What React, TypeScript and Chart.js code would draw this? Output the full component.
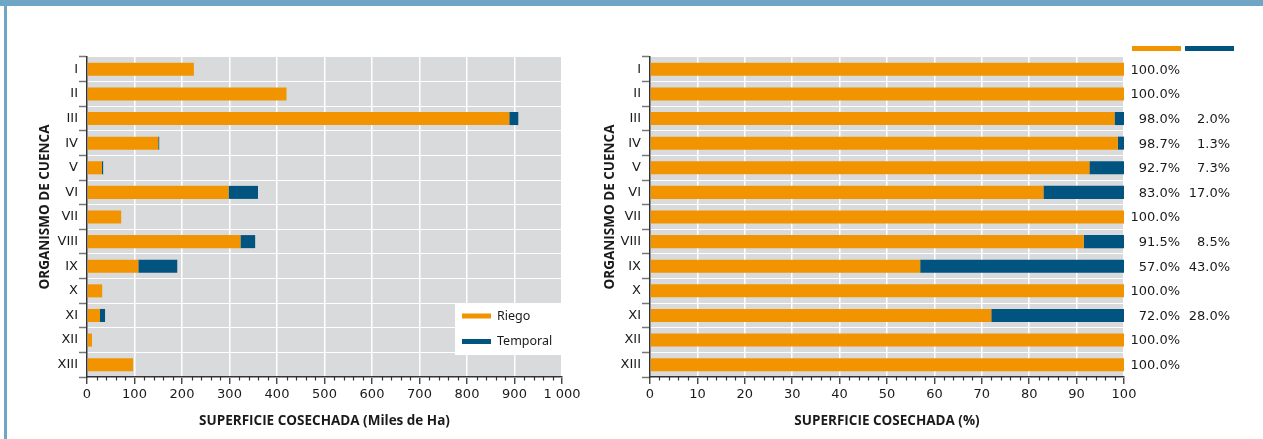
import React, { useEffect, useRef } from 'react';
import { Chart, registerables } from 'chart.js';

Chart.register(...registerables);

// ---------- data ----------
const categories = ['I', 'II', 'III', 'IV', 'V', 'VI', 'VII', 'VIII', 'IX', 'X', 'XI', 'XII', 'XIII'];
const seriesNames = ['Riego', 'Temporal'];
// Superficie cosechada (miles de ha)
const riegoMilesHa = [225, 420, 889, 150, 31.5, 298, 72, 323, 108, 32, 27.4, 10.5, 97];
const temporalMilesHa = [0, 0, 19, 2, 2.5, 62, 0, 31, 82, 0, 10.6, 0, 0];
// Superficie cosechada (%)
const riegoPct = [100, 100, 98.0, 98.7, 92.7, 83.0, 100, 91.5, 57.0, 100, 72.0, 100, 100];
const temporalPct = [0, 0, 2.0, 1.3, 7.3, 17.0, 0, 8.5, 43.0, 0, 28.0, 0, 0];
// axis titles
const yTitle = 'ORGANISMO DE CUENCA';
const xTitleAbs = 'SUPERFICIE COSECHADA (Miles de Ha)';
const xTitlePct = 'SUPERFICIE COSECHADA (%)';

// ---------- styles ----------
const ORANGE = '#F29400';
const BLUE = '#00547F';
const PLOT_BG = '#D9DADB';
const FRAME = '#6FA6C6';
const TEXT = '#1a1a1a';
const TICK_FONT = { family: '"DejaVu Sans", sans-serif', size: 13 };
const TITLE_FONT = 'bold 13.5px "Open Sans", sans-serif';
const LEGEND_FONT = '12.5px "Noto Sans", sans-serif';
const H = 439;

const isMajor = (v: number, major: number) => Math.abs(Math.round(v / major) * major - v) < 1e-6;

function fmtThousands(v: number) {
  const s = String(Math.round(v));
  return s.replace(/\B(?=(\d{3})+(?!\d))/g, ' ');
}

type Spec = {
  width: number;
  area: { left: number; right: number; top: number; bottom: number };
  riego: number[];
  temporal: number[];
  max: number;
  step: number;
  major: number;
  xTitle: string;
  yTitleX: number;
  yTitleY: number;
  xTitleY: number;
  extras: (chart: any) => void;
};

function makeChart(canvas: HTMLCanvasElement, spec: Spec) {
  const { width, area, riego, temporal, max, step, major } = spec;

  const bgPlugin = {
    id: 'plotBg',
    beforeDraw(chart: any) {
      const { ctx, chartArea: a } = chart;
      ctx.save();
      ctx.fillStyle = PLOT_BG;
      ctx.fillRect(a.left, a.top, a.right - a.left, a.bottom - a.top);
      ctx.restore();
    },
  };

  const decoPlugin = {
    id: 'deco',
    afterDraw(chart: any) {
      const { ctx, chartArea: a } = chart;
      const xs = chart.scales.x;
      ctx.save();
      // minor ticks
      ctx.strokeStyle = '#333';
      ctx.lineWidth = 1.2;
      for (let v = 0; v <= max + 1e-9; v += step) {
        if (isMajor(v, major)) continue;
        const px = Math.round(xs.getPixelForValue(v)) + 0.5;
        ctx.beginPath();
        ctx.moveTo(px, a.bottom);
        ctx.lineTo(px, a.bottom + 3.5);
        ctx.stroke();
      }
      // axis titles
      ctx.fillStyle = TEXT;
      ctx.font = TITLE_FONT;
      ctx.textAlign = 'center';
      ctx.textBaseline = 'middle';
      ctx.fillText(spec.xTitle, (a.left + a.right) / 2, spec.xTitleY);
      ctx.save();
      ctx.translate(spec.yTitleX, spec.yTitleY);
      ctx.rotate(-Math.PI / 2);
      ctx.fillText(yTitle, 0, 0);
      ctx.restore();
      ctx.restore();
      spec.extras(chart);
    },
  };

  return new Chart(canvas, {
    type: 'bar',
    data: {
      labels: categories,
      datasets: [
        { label: seriesNames[0], data: riego, backgroundColor: ORANGE, borderWidth: 0, barPercentage: 0.53, categoryPercentage: 1 },
        { label: seriesNames[1], data: temporal, backgroundColor: BLUE, borderWidth: 0, barPercentage: 0.53, categoryPercentage: 1 },
      ],
    },
    options: {
      indexAxis: 'y',
      animation: false,
      responsive: false,
      maintainAspectRatio: false,
      layout: { padding: { left: 0, top: area.top, right: width - area.right, bottom: 0 } },
      plugins: { legend: { display: false }, tooltip: { enabled: false }, title: { display: false } },
      scales: {
        x: {
          type: 'linear',
          stacked: true,
          min: 0,
          max,
          afterFit: (s: any) => {
            s.height = H - area.bottom;
          },
          ticks: {
            stepSize: step,
            autoSkip: false,
            maxRotation: 0,
            minRotation: 0,
            font: TICK_FONT,
            color: TEXT,
            padding: 3,
            callback: (v: any) => (isMajor(Number(v), major) ? fmtThousands(Number(v)) : ''),
          },
          grid: {
            color: (c: any) => (c.tick && isMajor(c.tick.value, major) ? '#ffffff' : 'rgba(0,0,0,0)'),
            lineWidth: 1.5,
            tickLength: 7,
            tickColor: (c: any) => (c.tick && isMajor(c.tick.value, major) ? '#333' : 'rgba(0,0,0,0)'),
            tickWidth: 1.3,
          },
          border: { color: '#333', width: 1.5 },
        },
        y: {
          type: 'category',
          stacked: true,
          afterFit: (s: any) => {
            s.width = area.left;
          },
          ticks: { font: TICK_FONT, color: TEXT, padding: 1, autoSkip: false },
          grid: { offset: true, color: '#ffffff', lineWidth: 1, tickLength: 8, tickColor: '#777', tickWidth: 1.5 },
          border: { color: '#333', width: 1.5 },
        },
      },
    } as any,
    plugins: [bgPlugin, decoPlugin],
  });
}

function legendBox(chart: any) {
  const { ctx, chartArea: a } = chart;
  const ds = chart.data.datasets;
  const x0 = a.right - 107;
  const y0 = a.bottom - 74;
  ctx.save();
  ctx.fillStyle = '#ffffff';
  ctx.fillRect(x0, y0, 106, 52);
  ctx.font = LEGEND_FONT;
  ctx.textAlign = 'left';
  ctx.textBaseline = 'middle';
  ds.forEach((d: any, i: number) => {
    const cy = y0 + 13 + i * 25.5;
    ctx.fillStyle = d.backgroundColor;
    ctx.fillRect(x0 + 7, cy - 2.5, 29, 5);
    ctx.fillStyle = TEXT;
    ctx.fillText(d.label, x0 + 42, cy);
  });
  ctx.restore();
}

function pctLabels(chart: any) {
  const { ctx, chartArea: a } = chart;
  const ys = chart.scales.y;
  const ds = chart.data.datasets;
  ctx.save();
  // legend swatches on top
  ctx.fillStyle = ds[0].backgroundColor;
  ctx.fillRect(a.right + 8, a.top - 11, 49, 5);
  ctx.fillStyle = ds[1].backgroundColor;
  ctx.fillRect(a.right + 61, a.top - 11, 49, 5);
  ctx.font = '13px "DejaVu Sans", sans-serif';
  ctx.fillStyle = TEXT;
  ctx.textAlign = 'right';
  ctx.textBaseline = 'middle';
  categories.forEach((_, i) => {
    const cy = ys.getPixelForValue(i) + 1;
    ctx.fillText(riegoPct[i].toFixed(1) + '%', a.right + 56, cy);
    if (temporalPct[i] > 0) ctx.fillText(temporalPct[i].toFixed(1) + '%', a.right + 106, cy);
  });
  ctx.restore();
}

export default function App() {
  const leftRef = useRef<HTMLCanvasElement>(null);
  const rightRef = useRef<HTMLCanvasElement>(null);

  useEffect(() => {
    const left = makeChart(leftRef.current!, {
      width: 600,
      area: { left: 87, right: 562, top: 57, bottom: 377 },
      riego: riegoMilesHa,
      temporal: temporalMilesHa,
      max: 1000,
      step: 20,
      major: 100,
      xTitle: xTitleAbs,
      yTitleX: 45,
      yTitleY: 207,
      xTitleY: 421,
      extras: legendBox,
    });
    const right = makeChart(rightRef.current!, {
      width: 663,
      area: { left: 50, right: 524, top: 57, bottom: 377 },
      riego: riegoPct,
      temporal: temporalPct,
      max: 100,
      step: 2,
      major: 10,
      xTitle: xTitlePct,
      yTitleX: 10,
      yTitleY: 207,
      xTitleY: 421,
      extras: pctLabels,
    });
    return () => {
      left.destroy();
      right.destroy();
    };
  }, []);

  return (
    <div style={{ position: 'absolute', left: 0, top: 0, width: 1263, height: H, background: '#fff', overflow: 'hidden' }}>
      <canvas ref={leftRef} width={600} height={H} style={{ position: 'absolute', left: 0, top: 0, width: 600, height: H }} />
      <canvas ref={rightRef} width={663} height={H} style={{ position: 'absolute', left: 600, top: 0, width: 663, height: H }} />
      <div style={{ position: 'absolute', left: 0, top: 0, width: 1263, height: 6, background: FRAME }} />
      <div style={{ position: 'absolute', left: 4, top: 0, width: 3, height: H, background: FRAME }} />
    </div>
  );
}
